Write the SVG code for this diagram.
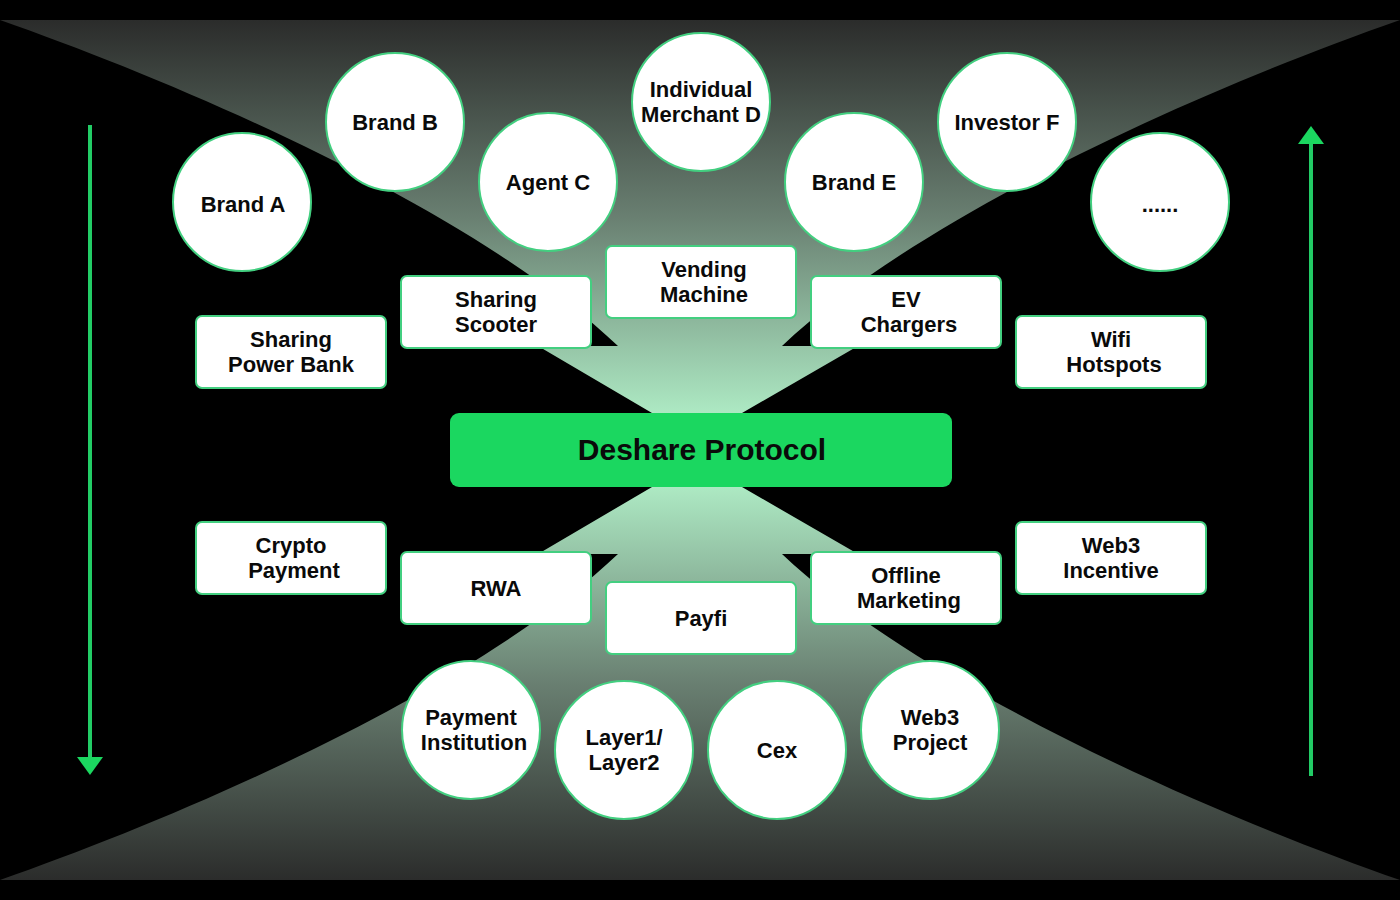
<svg xmlns="http://www.w3.org/2000/svg" width="1400" height="900" viewBox="0 0 1400 900">
<style>
.n{fill:#fff;stroke:#43cf80;stroke-width:2}
text{font-family:"Liberation Sans",Arial,sans-serif;font-weight:700;font-size:22px;fill:#0a0a0a;text-anchor:middle}
.t{font-size:30px}
.ar{stroke:#22cc66;stroke-width:4;fill:none}
.ah{fill:#1bd760}
</style>
<defs>
<linearGradient id="gt" gradientUnits="userSpaceOnUse" x1="0" y1="20" x2="0" y2="413"><stop offset="0" stop-color="#2b2c2b"/><stop offset="0.5" stop-color="#697f71"/><stop offset="1" stop-color="#ade9c3"/></linearGradient>
<linearGradient id="gb" gradientUnits="userSpaceOnUse" x1="0" y1="880" x2="0" y2="487"><stop offset="0" stop-color="#2b2c2b"/><stop offset="0.5" stop-color="#697f71"/><stop offset="1" stop-color="#ade9c3"/></linearGradient>
</defs>
<rect width="1400" height="900" fill="#000"/>
<g id="funnels">
<path fill="url(#gt)" d="M0 20H1400C1200 90 920 215 782 346H858L742 413H652L538 346H618C480 215 200 90 0 20Z"/>
<path fill="url(#gb)" d="M0 880H1400C1200 810 920 685 782 554H858L742 487H652L538 554H618C480 685 200 810 0 880Z"/>
</g>
<g id="connectors">
<path class="ar" d="M90 125V758"/><path class="ah" d="M77 757H103L90 775Z"/>
<path class="ar" d="M1311 776V143"/><path class="ah" d="M1298 144H1324L1311 126Z"/>
</g>
<g id="brand-a"><circle class="n" cx="242" cy="202" r="69"/><text x="243" y="212">Brand A</text></g>
<g id="brand-b"><circle class="n" cx="395" cy="122" r="69"/><text x="395" y="130">Brand B</text></g>
<g id="agent-c"><circle class="n" cx="548" cy="182" r="69"/><text x="548" y="190">Agent C</text></g>
<g id="merchant-d"><circle class="n" cx="701" cy="102" r="69"/><text x="701" y="97">Individual</text><text x="701" y="122">Merchant D</text></g>
<g id="brand-e"><circle class="n" cx="854" cy="182" r="69"/><text x="854" y="190">Brand E</text></g>
<g id="investor-f"><circle class="n" cx="1007" cy="122" r="69"/><text x="1007" y="130">Investor F</text></g>
<g id="more"><circle class="n" cx="1160" cy="202" r="69"/><text x="1160" y="212">......</text></g>
<g id="power-bank"><rect class="n" x="196" y="316" width="190" height="72" rx="6"/><text x="291" y="347">Sharing</text><text x="291" y="372">Power Bank</text></g>
<g id="scooter"><rect class="n" x="401" y="276" width="190" height="72" rx="6"/><text x="496" y="307">Sharing</text><text x="496" y="332">Scooter</text></g>
<g id="vending"><rect class="n" x="606" y="246" width="190" height="72" rx="6"/><text x="704" y="277">Vending</text><text x="704" y="302">Machine</text></g>
<g id="ev"><rect class="n" x="811" y="276" width="190" height="72" rx="6"/><text x="906" y="307">EV</text><text x="909" y="332">Chargers</text></g>
<g id="wifi"><rect class="n" x="1016" y="316" width="190" height="72" rx="6"/><text x="1111" y="347">Wifi</text><text x="1114" y="372">Hotspots</text></g>
<g id="protocol"><rect x="450" y="413" width="502" height="74" rx="9" fill="#1bd760"/><text class="t" x="702" y="460">Deshare Protocol</text></g>
<g id="crypto"><rect class="n" x="196" y="522" width="190" height="72" rx="6"/><text x="291" y="553">Crypto</text><text x="294" y="578">Payment</text></g>
<g id="rwa"><rect class="n" x="401" y="552" width="190" height="72" rx="6"/><text x="496" y="596">RWA</text></g>
<g id="payfi"><rect class="n" x="606" y="582" width="190" height="72" rx="6"/><text x="701" y="626">Payfi</text></g>
<g id="offline"><rect class="n" x="811" y="552" width="190" height="72" rx="6"/><text x="906" y="583">Offline</text><text x="909" y="608">Marketing</text></g>
<g id="incentive"><rect class="n" x="1016" y="522" width="190" height="72" rx="6"/><text x="1111" y="553">Web3</text><text x="1111" y="578">Incentive</text></g>
<g id="institution"><circle class="n" cx="471" cy="730" r="69"/><text x="471" y="725">Payment</text><text x="474" y="750">Institution</text></g>
<g id="layer"><circle class="n" cx="624" cy="750" r="69"/><text x="624" y="745">Layer1/</text><text x="624" y="770">Layer2</text></g>
<g id="cex"><circle class="n" cx="777" cy="750" r="69"/><text x="777" y="758">Cex</text></g>
<g id="web3"><circle class="n" cx="930" cy="730" r="69"/><text x="930" y="725">Web3</text><text x="930" y="750">Project</text></g>
</svg>
